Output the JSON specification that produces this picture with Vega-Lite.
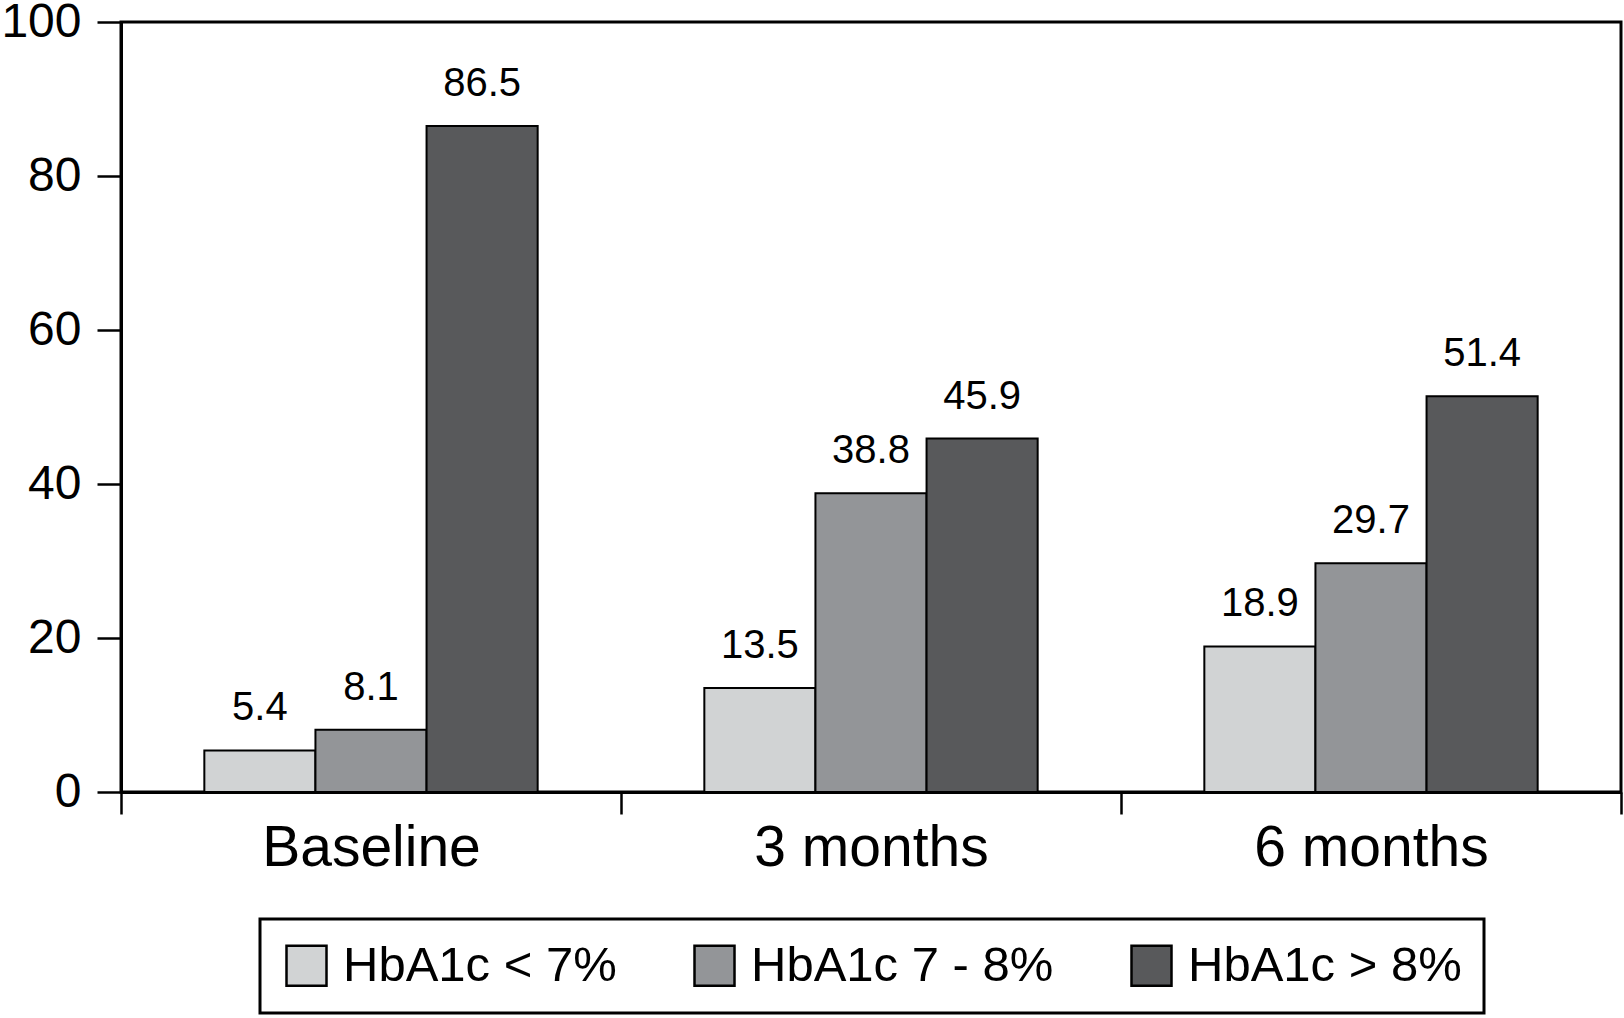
{
  "$schema": "https://vega.github.io/schema/vega-lite/v6.json",
  "width": 1500,
  "height": 770,
  "autosize": {"type": "none"},
  "padding": {"left": 121, "top": 22, "right": 3, "bottom": 226},
  "background": "white",
  "config": {
    "font": "Liberation Sans",
    "view": {"stroke": "black", "strokeWidth": 3},
    "axis": {"domainColor": "black", "domainWidth": 3, "tickColor": "black", "tickWidth": 2.5, "labelColor": "black", "labelFont": "Liberation Sans", "grid": false, "title": null, "labelLimit": 0}
  },
  "data": {
    "values": [
      {"period": "Baseline", "group": "HbA1c < 7%", "value": 5.4},
      {"period": "Baseline", "group": "HbA1c 7 - 8%", "value": 8.1},
      {"period": "Baseline", "group": "HbA1c > 8%", "value": 86.5},
      {"period": "3 months", "group": "HbA1c < 7%", "value": 13.5},
      {"period": "3 months", "group": "HbA1c 7 - 8%", "value": 38.8},
      {"period": "3 months", "group": "HbA1c > 8%", "value": 45.9},
      {"period": "6 months", "group": "HbA1c < 7%", "value": 18.9},
      {"period": "6 months", "group": "HbA1c 7 - 8%", "value": 29.7},
      {"period": "6 months", "group": "HbA1c > 8%", "value": 51.4}
    ]
  },
  "encoding": {
    "x": {
      "field": "period", "type": "nominal", "sort": ["Baseline", "3 months", "6 months"],
      "scale": {"paddingInner": 0, "paddingOuter": 0},
      "axis": {"tickBand": "extent", "tickSize": 22, "labelFontSize": 57, "labelPadding": 51, "labelBaseline": "alphabetic", "labelAngle": 0, "labelLimit": 0}
    },
    "xOffset": {
      "field": "group", "type": "nominal",
      "scale": {"domain": ["HbA1c < 7%", "HbA1c 7 - 8%", "HbA1c > 8%"], "paddingInner": 0, "paddingOuter": 0.75}
    },
    "y": {
      "field": "value", "type": "quantitative",
      "scale": {"domain": [0, 100], "nice": false},
      "axis": {"values": [0, 20, 40, 60, 80, 100], "tickSize": 24, "labelFontSize": 48, "labelPadding": 16, "labelBaseline": "middle"}
    }
  },
  "layer": [
    {
      "mark": {"type": "bar", "stroke": "black", "strokeWidth": 2},
      "encoding": {
        "color": {
          "field": "group", "type": "nominal",
          "scale": {"domain": ["HbA1c < 7%", "HbA1c 7 - 8%", "HbA1c > 8%"], "range": ["#d1d3d4", "#939598", "#58595b"]},
          "legend": {
            "title": null, "orient": "none", "direction": "horizontal",
            "legendX": 139, "legendY": 897,
            "symbolType": "square", "symbolSize": 1600, "symbolStrokeColor": "black", "symbolStrokeWidth": 2.5, "symbolOpacity": 1,
            "labelFontSize": 49, "labelColor": "black", "labelFont": "Liberation Sans", "labelOffset": 12, "labelLimit": 0,
            "columnPadding": 72, "padding": 22, "strokeColor": "black",
            "encode": {"legend": {"update": {"strokeWidth": {"value": 3}}}}
          }
        }
      }
    },
    {
      "mark": {"type": "text", "fontSize": 40, "color": "black", "baseline": "alphabetic", "dy": -30, "font": "Liberation Sans"},
      "encoding": {
        "text": {"field": "value", "type": "quantitative", "format": ".1f"}
      }
    }
  ]
}
